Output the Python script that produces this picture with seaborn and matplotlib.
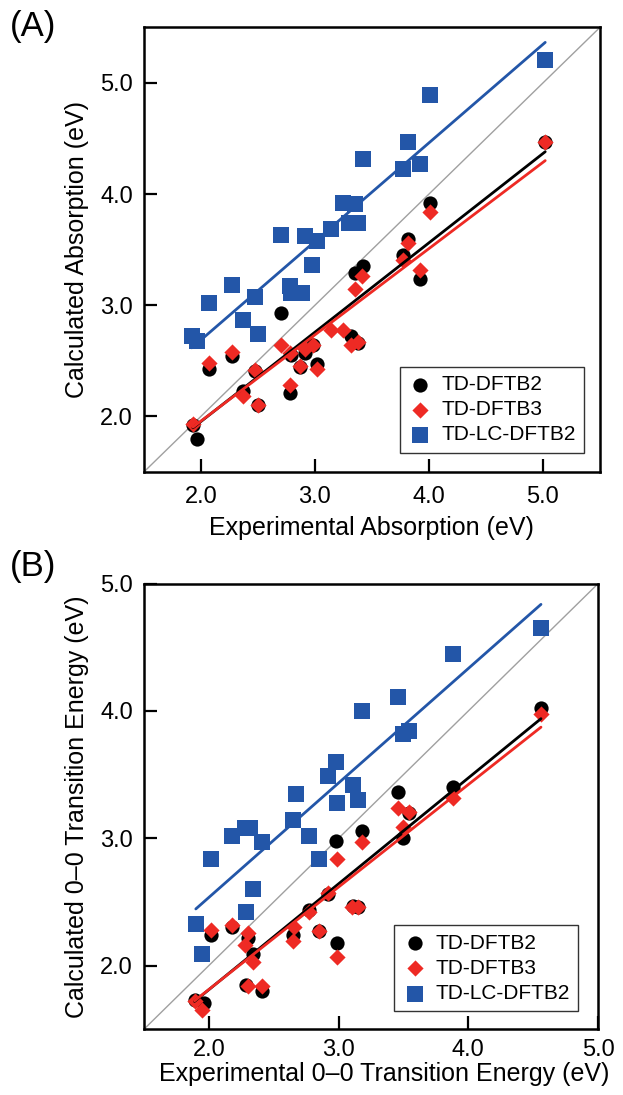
# Calculated vs experimental excitation energies, two panels
import pandas as pd
import matplotlib.pyplot as plt
import seaborn as sns
import numpy as np

# Panel A: absorption energies (eV)
a_dftb2_x = [1.97, 1.93, 2.07, 2.27, 2.37, 2.47, 2.50, 2.70, 2.78, 2.79, 2.87, 2.91, 2.98,
             3.02, 3.32, 3.38, 3.35, 3.42, 3.77, 3.82, 3.92, 4.01, 5.02]
a_dftb2_y = [1.80, 1.92, 2.43, 2.54, 2.23, 2.41, 2.10, 2.93, 2.21, 2.55, 2.44, 2.57, 2.64,
             2.47, 2.72, 2.66, 3.29, 3.35, 3.45, 3.60, 3.24, 3.92, 4.47]
a_dftb3_x = [1.93, 2.07, 2.27, 2.37, 2.47, 2.50, 2.70, 2.78, 2.78, 2.87, 2.91, 2.98, 3.02,
             3.14, 3.25, 3.32, 3.38, 3.35, 3.41, 3.82, 3.77, 4.01, 3.92, 5.02]
a_dftb3_y = [1.93, 2.48, 2.58, 2.18, 2.42, 2.10, 2.64, 2.28, 2.57, 2.45, 2.61, 2.64, 2.43,
             2.78, 2.78, 2.64, 2.67, 3.15, 3.26, 3.56, 3.41, 3.84, 3.32, 4.47]
a_lc_x = [1.92, 1.97, 2.07, 2.27, 2.37, 2.47, 2.50, 2.70, 2.78, 2.79, 2.89, 2.91, 2.97,
          3.02, 3.14, 3.25, 3.30, 3.35, 3.38, 3.42, 3.77, 3.82, 3.92, 4.01, 5.02]
a_lc_y = [2.72, 2.68, 3.02, 3.18, 2.87, 3.07, 2.74, 3.63, 3.17, 3.11, 3.11, 3.62, 3.36,
          3.58, 3.69, 3.92, 3.74, 3.91, 3.74, 4.32, 4.23, 4.47, 4.27, 4.89, 5.21]

# Panel B: 0-0 transition energies (eV)
b_dftb2_x = [1.89, 1.96, 2.02, 2.18, 2.30, 2.34, 2.29, 2.41, 2.65, 2.77, 2.85, 2.92, 2.99,
             2.98, 3.11, 3.15, 3.18, 3.46, 3.54, 3.50, 3.88, 4.56]
b_dftb2_y = [1.73, 1.71, 2.24, 2.30, 2.22, 2.09, 1.85, 1.80, 2.24, 2.44, 2.27, 2.56, 2.18,
             2.98, 2.47, 2.46, 3.06, 3.36, 3.20, 3.00, 3.40, 4.02]
b_dftb3_x = [1.89, 1.95, 2.02, 2.18, 2.30, 2.28, 2.34, 2.30, 2.41, 2.66, 2.65, 2.77, 2.85,
             2.92, 2.99, 2.99, 3.10, 3.15, 3.18, 3.46, 3.54, 3.50, 3.88, 4.56]
b_dftb3_y = [1.72, 1.65, 2.28, 2.32, 2.26, 2.16, 2.03, 1.84, 1.84, 2.30, 2.19, 2.42, 2.27,
             2.57, 2.07, 2.84, 2.46, 2.46, 2.97, 3.24, 3.21, 3.09, 3.32, 3.98]
b_lc_x = [1.90, 1.95, 2.02, 2.18, 2.28, 2.32, 2.41, 2.29, 2.34, 2.65, 2.67, 2.77, 2.85,
          2.92, 2.98, 2.99, 3.11, 3.15, 3.18, 3.46, 3.50, 3.54, 3.88, 4.56]
b_lc_y = [2.33, 2.09, 2.84, 3.02, 3.08, 3.08, 2.97, 2.42, 2.60, 3.14, 3.35, 3.02, 2.84,
          3.49, 3.60, 3.28, 3.42, 3.30, 4.00, 4.11, 3.82, 3.84, 4.45, 4.65]

methods = ['TD-DFTB2', 'TD-DFTB3', 'TD-LC-DFTB2']
colors = ['#000000', '#ee2a24', '#2356a8']
markers = ['o', 'D', 's']
sizes = [105, 68, 125]
ticks = [2.0, 3.0, 4.0, 5.0]

sns.set_theme(style='white')
plt.rcParams['font.family'] = ['Liberation Sans', 'DejaVu Sans']
plt.rcParams['text.color'] = 'black'
plt.rcParams['axes.labelcolor'] = 'black'
plt.rcParams['xtick.color'] = 'black'
plt.rcParams['ytick.color'] = 'black'

fig = plt.figure(figsize=(6.23, 10.95), dpi=100)
ax_a = fig.add_axes([0.231, 0.569, 0.732, 0.406])
ax_b = fig.add_axes([0.231, 0.060, 0.729, 0.407])


def draw_panel(ax, series, lim, xlabel, ylabel, xpad, lpad, legend_anchor):
    ax.axline((0, 0), slope=1, color='#a0a0a0', lw=1.0, zorder=1)
    # scatter points first (blue, black, red order so red sits on black)
    for i in [2, 0, 1]:
        x, y = series[i]
        sns.scatterplot(x=x, y=y, ax=ax, marker=markers[i], s=sizes[i],
                        color=colors[i], linewidth=0, label=methods[i], zorder=3)
    # least-squares fit lines over each data range
    for i in [2, 0, 1]:
        x, y = series[i]
        sns.regplot(x=np.array(x), y=np.array(y), ax=ax, scatter=False, ci=None,
                    truncate=True, color=colors[i], line_kws={'lw': 2.0, 'zorder': 4})
    ax.set_xlim(*lim)
    ax.set_ylim(*lim)
    ax.set_xticks(ticks)
    ax.set_yticks(ticks)
    ax.set_xticklabels([f'{t:.1f}' for t in ticks])
    ax.set_yticklabels([f'{t:.1f}' for t in ticks])
    ax.tick_params(direction='in', length=9.5, width=1.6, labelsize=17,
                   bottom=True, left=True, top=False, right=False)
    ax.tick_params(axis='x', pad=xpad)
    ax.tick_params(axis='y', pad=8)
    for sp in ax.spines.values():
        sp.set_color('black')
        sp.set_linewidth(1.8)
    ax.set_xlabel(xlabel, fontsize=18, labelpad=lpad)
    ax.set_ylabel(ylabel, fontsize=18, labelpad=8)
    handles, labels = ax.get_legend_handles_labels()
    order = [labels.index(m) for m in methods]
    leg = ax.legend([handles[k] for k in order], methods, loc='lower right',
                    bbox_to_anchor=legend_anchor, borderaxespad=0, fontsize=15,
                    frameon=True, fancybox=False, edgecolor='black',
                    handletextpad=0.4, labelspacing=0.3, borderpad=0.4,
                    handlelength=1.2)
    leg.get_frame().set_linewidth(1.0)


draw_panel(ax_a, [(a_dftb2_x, a_dftb2_y), (a_dftb3_x, a_dftb3_y), (a_lc_x, a_lc_y)],
           (1.5, 5.5), 'Experimental Absorption (eV)', 'Calculated Absorption (eV)',
           10, 6, (0.965, 0.043))
draw_panel(ax_b, [(b_dftb2_x, b_dftb2_y), (b_dftb3_x, b_dftb3_y), (b_lc_x, b_lc_y)],
           (1.5, 5.0), 'Experimental 0\u20130 Transition Energy (eV)',
           'Calculated 0\u20130 Transition Energy (eV)', 7, 1, (0.956, 0.040))
ax_b.xaxis.label.set_x(0.53)

fig.text(0.016, 0.991, '(A)', fontsize=25, va='top', ha='left')
fig.text(0.016, 0.498, '(B)', fontsize=25, va='top', ha='left')

fig.savefig('out.png', dpi=100)
